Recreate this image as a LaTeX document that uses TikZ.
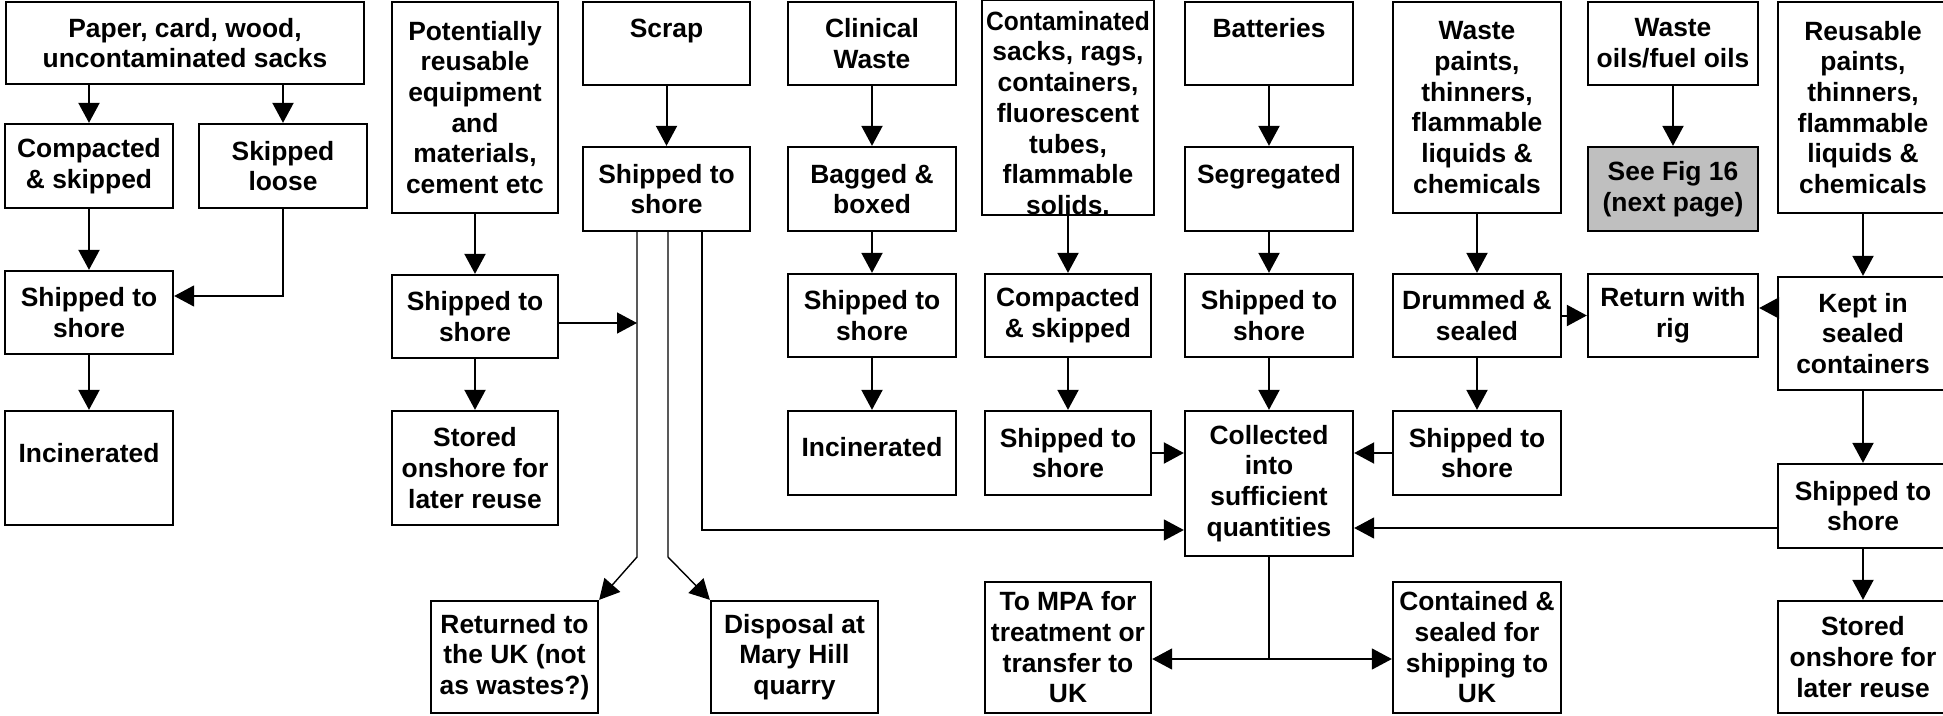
\documentclass[tikz,border=0pt]{standalone}
\usepackage{fontspec}
\setmainfont{Liberation Sans}
\usepackage{graphicx}
\usetikzlibrary{arrows.meta}
\begin{document}
\begin{tikzpicture}[x=1pt,y=-1pt,
  box/.style={draw,line width=2.3pt,inner sep=0pt,align=center,
    font=\fontsize{26.4pt}{30.7pt}\selectfont\bfseries},
  arr/.style={line width=2pt,-{Triangle[length=20pt,width=21pt]}},
  route/.style={line width=1.4pt},
  routearr/.style={route,-{Triangle[length=20pt,width=21pt]}},
]
% box given by its corners: name, x1, y1, x2, y2, text
\newcommand{\wbox}[7][]{%
  \pgfmathsetmacro{\boxW}{#5-#3}\pgfmathsetmacro{\boxH}{#6-#4}%
  \pgfmathsetmacro{\boxX}{(#3+#5)/2}\pgfmathsetmacro{\boxY}{(#4+#6)/2}%
  \node[box,minimum width=\boxW pt,minimum height=\boxH pt,#1] (#2) at (\boxX,\boxY) {#7};}
\useasboundingbox (0,0) rectangle (1943,715);

% top row: waste streams
\wbox{paper}{6}{2}{364}{84}{Paper, card, wood,\\uncontaminated sacks}
\wbox{pot}{392}{2}{558}{213}{Potentially\\reusable\\equipment\\and\\materials,\\cement etc}
\wbox{scrap}{583}{2}{750}{85}{Scrap\\\mbox{}}
\wbox{clin}{788}{2}{956}{85}{Clinical\\Waste}
\wbox{cont}{982}{2}{1154}{213}{\rule{0pt}{30pt}\scalebox{0.93}[1]{Contaminated}\\sacks, rags,\\containers,\\fluorescent\\tubes,\\flammable\\solids.}
\wbox{batt}{1185}{2}{1353}{85}{Batteries\\\mbox{}}
\wbox{wpaint}{1393}{2}{1561}{213}{Waste\\paints,\\thinners,\\flammable\\liquids \&\\chemicals}
\wbox{woil}{1588}{2}{1758}{85}{Waste\\oils/fuel oils}
\wbox{reus}{1778}{2}{1948}{213}{Reusable\\paints,\\thinners,\\flammable\\liquids \&\\chemicals}

% second row
\wbox{compL}{5}{124}{173}{208}{Compacted\\\& skipped}
\wbox{skip}{199}{124}{367}{208}{Skipped\\loose}
\wbox{scrapship}{583}{147}{750}{231}{Shipped to\\shore}
\wbox{bag}{788}{147}{956}{231}{Bagged \&\\boxed}
\wbox{seg}{1185}{147}{1353}{231}{Segregated\\\mbox{}}
\wbox[fill=black!25]{fig}{1588}{147}{1758}{231}{See Fig 16\\(next page)}

% third row
\wbox{shipL}{5}{271}{173}{354}{Shipped to\\shore}
\wbox{shipP}{392}{275}{558}{358}{Shipped to\\shore}
\wbox{shipC}{788}{274}{956}{357}{Shipped to\\shore}
\wbox{compC}{985}{274}{1151}{357}{Compacted\\\& skipped}
\wbox{shipB}{1185}{274}{1353}{357}{Shipped to\\shore}
\wbox{drum}{1393}{274}{1561}{357}{Drummed \&\\sealed}
\wbox{ret}{1588}{274}{1758}{357}{Return with\\rig}
\wbox{kept}{1778}{277}{1948}{390}{Kept in\\sealed\\containers}

% fourth row
\wbox{incL}{5}{411}{173}{525}{Incinerated\\\mbox{}}
\wbox{storeP}{392}{411}{558}{525}{Stored\\onshore for\\later reuse}
\wbox{incC}{788}{411}{956}{495}{Incinerated\rule[-12pt]{0pt}{0pt}}
\wbox{shipCC}{985}{411}{1151}{495}{Shipped to\\shore}
\wbox{coll}{1185}{411}{1353}{556}{Collected\\into\\sufficient\\quantities}
\wbox{shipW}{1393}{411}{1561}{495}{Shipped to\\shore}
\wbox{shipR}{1778}{464}{1948}{548}{Shipped to\\shore}

% bottom row
\wbox{retUK}{431}{601}{598}{713}{Returned to\\the UK (not\\as wastes?)}
\wbox{disp}{711}{601}{878}{713}{Disposal at\\Mary Hill\\quarry}
\wbox{mpa}{985}{582}{1151}{713}{To MPA for\\treatment or\\transfer to\\UK}
\wbox{contd}{1393}{582}{1561}{713}{Contained \&\\sealed for\\shipping to\\UK}
\wbox{storeR}{1778}{601}{1948}{713}{Stored\\onshore for\\later reuse}

% paper, card and wood
\draw[arr] (paper.south -| compL.north) -- (compL.north);
\draw[arr] (paper.south -| skip.north) -- (skip.north);
\draw[arr] (compL) -- (shipL);
\draw[routearr] (skip.south) |- (shipL.east |- 0,296);
\draw[arr] (shipL) -- (incL);

% reusable equipment
\draw[arr] (pot) -- (shipP);
\draw[arr] (shipP) -- (storeP);
\coordinate (sa) at (637,557);
\coordinate (sb) at (668,557);
\coordinate (sc) at (702,530);
\draw[routearr] (shipP.east |- 0,323) -- (sa |- 0,323);

% scrap
\draw[arr] (scrap) -- (scrapship);
\draw[routearr] (scrapship.south -| sa) -- (sa) -- (retUK.north east);
\draw[routearr] (scrapship.south -| sb) -- (sb) -- (disp.north west);
\draw[routearr] (scrapship.south -| sc) -- (sc) -- (sc -| coll.west);

% clinical waste
\draw[arr] (clin) -- (bag);
\draw[arr] (bag) -- (shipC);
\draw[arr] (shipC) -- (incC);

% contaminated materials
\draw[arr] (cont.south -| compC.north) -- (compC.north);
\draw[arr] (compC) -- (shipCC);
\draw[arr] (shipCC.east) -- (shipCC.east -| coll.west);

% batteries
\draw[arr] (batt) -- (seg);
\draw[arr] (seg) -- (shipB);
\draw[arr] (shipB) -- (coll);

% waste paints and oils
\draw[arr] (wpaint) -- (drum);
\draw[arr] (drum) -- (shipW);
\draw[arr] (drum.east) -- (drum.east -| ret.west);
\draw[arr] (shipW.west) -- (shipW.west -| coll.east);
\draw[arr] (woil) -- (fig);

% reusable paints
\draw[arr] (reus.south -| kept.north) -- (kept.north);
\draw[arr] (kept) -- (shipR);
\draw[arr] (shipR) -- (storeR);
\draw[arr] (kept.west |- 0,308) -- (ret.east |- 0,308);
\draw[routearr] (shipR.west |- 0,528) -- (coll.east |- 0,528);

% onward routes from collection
\coordinate (split) at (coll.south |- 0,659);
\draw[route] (coll.south) -- (split);
\draw[routearr] (split) -- (mpa.east |- split);
\draw[routearr] (split) -- (contd.west |- split);
\end{tikzpicture}
\end{document}
